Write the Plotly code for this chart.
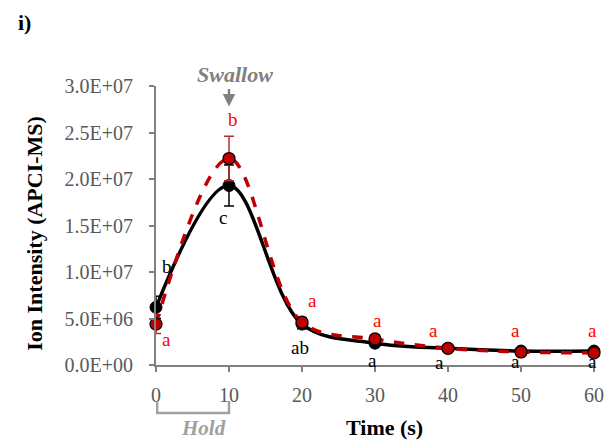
import plotly.graph_objects as go

time_s = [0, 10, 20, 30, 40, 50, 60]
series1_name = "Series 1"
series1 = [6.2e6, 19.3e6, 4.4e6, 2.35e6, 1.8e6, 1.5e6, 1.5e6]
series1_err = [1.2e6, 2.2e6, 0.5e6, 0.3e6, 0.2e6, 0.2e6, 0.2e6]
series2_name = "Series 2"
series2 = [4.4e6, 22.2e6, 4.6e6, 2.8e6, 1.8e6, 1.4e6, 1.3e6]
series2_err = [1.0e6, 2.4e6, 0.5e6, 0.4e6, 0.2e6, 0.2e6, 0.2e6]

y_tickvals = [0, 5e6, 10e6, 15e6, 20e6, 25e6, 30e6]
y_ticktext = ["0.0E+00", "5.0E+06", "1.0E+07", "1.5E+07", "2.0E+07", "2.5E+07", "3.0E+07"]
x_tickvals = [0, 10, 20, 30, 40, 50, 60]

# significance letters: (text, x, y)
letters1 = [("b", 1.5, 10.6e6), ("c", 9.2, 15.9e6), ("ab", 19.7, 1.9e6), ("a", 29.7, 0.5e6),
            ("a", 38.8, 0.3e6), ("a", 49.3, 0.4e6), ("a", 59.8, 0.4e6)]
letters2 = [("a", 1.5, 2.7e6), ("b", 10.6, 26.4e6), ("a", 21.4, 6.9e6), ("a", 30.3, 4.8e6),
            ("a", 38.0, 3.75e6), ("a", 49.3, 3.75e6), ("a", 59.8, 3.75e6)]

RED = "#C00000"
GRAY = "#808080"
FONT = "Liberation Serif"

# plot area in pixels
L, R, T, B = 156, 604, 86, 365
PW, PH = R - L, B - T


def px(xp):
    return (xp - L) / PW


def py(yp):
    return (B - yp) / PH


fig = go.Figure()
fig.add_trace(go.Scatter(
    x=time_s, y=series1, name=series1_name, mode="lines+markers",
    line=dict(color="black", width=3.5, shape="spline", smoothing=1.0),
    marker=dict(color="black", size=12, line=dict(color="black", width=1)),
    error_y=dict(type="data", array=series1_err, color="black", thickness=1.5, width=5),
    cliponaxis=False,
))
fig.add_trace(go.Scatter(
    x=time_s, y=series2, name=series2_name, mode="lines+markers",
    line=dict(color=RED, width=3.5, shape="spline", smoothing=1.0, dash="dash"),
    marker=dict(color=RED, size=12, line=dict(color="black", width=1.2)),
    error_y=dict(type="data", array=series2_err, color="#B03030", thickness=1.5, width=5),
    cliponaxis=False,
))

ann = []
for t, x, y in letters1:
    ann.append(dict(text=t, x=x, y=y, xref="x", yref="y", showarrow=False,
                    font=dict(family=FONT, size=19, color="black")))
for t, x, y in letters2:
    ann.append(dict(text=t, x=x, y=y, xref="x", yref="y", showarrow=False,
                    font=dict(family=FONT, size=19, color="#FF0000")))


def txt(text, xp, yp, size=21, color="black", angle=0):
    return dict(text=text, x=px(xp), y=py(yp), xref="paper", yref="paper",
                xanchor="center", yanchor="middle", showarrow=False, textangle=angle,
                font=dict(family=FONT, size=size, color=color))


ann.append(txt("<b><i>Swallow</i></b>", 237, 75, 22, GRAY))
ann.append(dict(text="", x=10, y=27.8e6, xref="x", yref="y", showarrow=True, ax=0, ay=-19,
                arrowhead=2, arrowsize=1, arrowwidth=2.5, arrowcolor=GRAY))
ann.append(txt("<b><i>Hold</i></b>", 205, 428, 21, "#A0A0A0"))
ann.append(txt("<b>Time (s)</b>", 390, 427, 22, "black"))
ann.append(txt("<b>Ion Intensity (APCI-MS)</b>", 31, 233, 22, "black", -90))
ann.append(txt("<b>i)</b>", 22, 22, 22, "black"))

fig.update_layout(
    width=615, height=441,
    margin=dict(l=L, r=615 - R, t=T, b=441 - B),
    paper_bgcolor="white", plot_bgcolor="white",
    showlegend=False,
    annotations=ann,
    shapes=[dict(type="path", xref="x", yref="paper",
                 path=f"M 0.15,{py(401)} L 0.15,{py(413)} L 10,{py(413)} L 10,{py(401)}",
                 line=dict(color="#A0A0A0", width=2.5))],
    font=dict(family=FONT),
)
fig.update_xaxes(range=[0, 60], tickvals=x_tickvals, showgrid=False, zeroline=False,
                 showline=True, linecolor=GRAY, linewidth=2, ticks="outside", ticklen=5,
                 tickcolor=GRAY, tickwidth=2, ticklabelstandoff=6,
                 tickfont=dict(family=FONT, size=20, color="#595959"))
fig.update_yaxes(range=[0, 3e7], tickvals=y_tickvals, ticktext=y_ticktext, showgrid=False,
                 zeroline=False, showline=True, linecolor=GRAY, linewidth=2, ticks="outside",
                 ticklen=5, tickcolor=GRAY, tickwidth=2, ticklabelstandoff=12,
                 tickfont=dict(family=FONT, size=20, color="#595959"))

fig.write_html("out.html")
